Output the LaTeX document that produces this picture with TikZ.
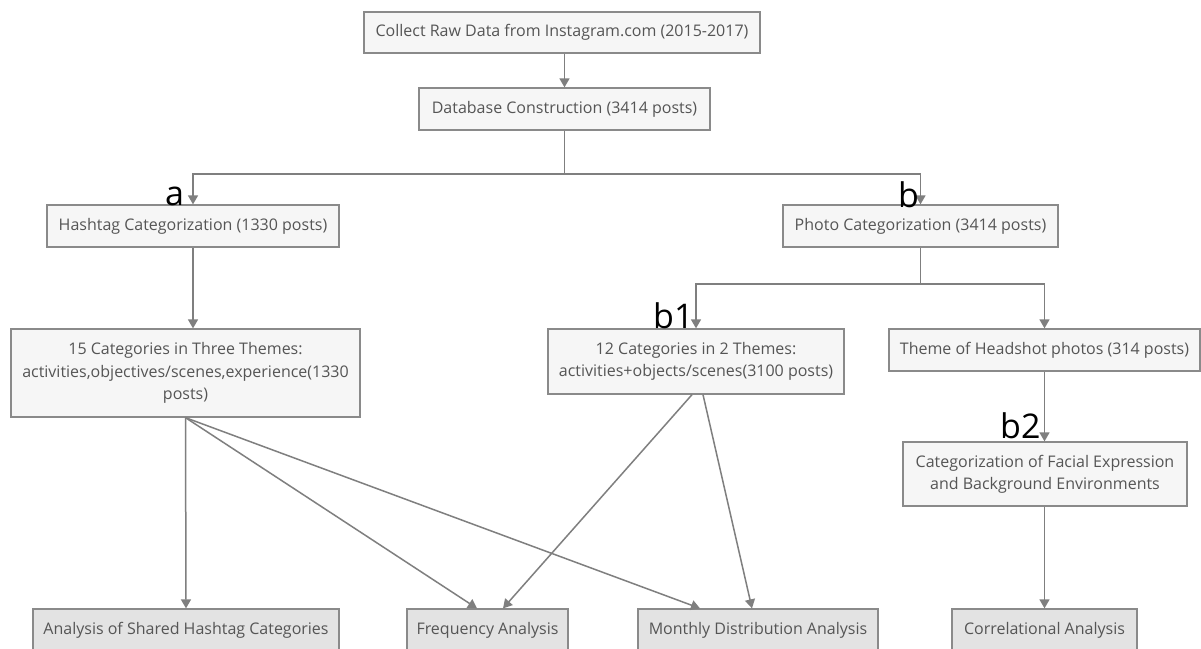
\documentclass[tikz,border=0pt]{standalone}
\usepackage{fontspec}
\setmainfont{Open Sans}
\newfontfamily\labfont{Open Sans}
\usetikzlibrary{arrows.meta,calc}
\definecolor{linec}{HTML}{7F7F7F}
\definecolor{boxline}{HTML}{8A8A8A}
\definecolor{txtc}{HTML}{555555}
\definecolor{fillA}{HTML}{F6F6F6}
\definecolor{fillB}{HTML}{E3E3E3}
\tikzset{
  box/.style={draw=boxline, line width=1.3pt, fill=fillA, text=txtc, align=center,
    inner sep=0pt, font=\fontsize{16}{22}\selectfont},
  fbox/.style={box, fill=fillB},
  arr/.style={draw=linec, line width=1.5pt, -{Triangle[width=10pt,length=9pt]}},
  ln/.style={draw=linec, line width=1.5pt},
  lab/.style={anchor=base west, inner sep=0pt, text=black, font=\labfont\fontsize{34}{34}\selectfont}
}
\begin{document}
\begin{tikzpicture}[x=1pt,y=-1pt]
\useasboundingbox[fill=white] (0,0) rectangle (1201,648);
\node[box, minimum width=396pt, minimum height=41pt] (collect) at (562,32.5) {Collect Raw Data from Instagram.com (2015-2017)};
\node[box, minimum width=291pt, minimum height=42pt] (db) at (564.5,109) {Database Construction (3414 posts)};
\node[box, minimum width=292pt, minimum height=42pt] (hashtag) at (193,226) {Hashtag Categorization (1330 posts)};
\node[box, minimum width=275pt, minimum height=42pt] (photo) at (920.5,226) {Photo Categorization (3414 posts)};
\node[box, minimum width=349pt, minimum height=88pt, font=\fontsize{16}{22.5}\selectfont] (cat15) at (185.5,373) {15 Categories in Three Themes:\\activities,objectives/scenes,experience(1330\\posts)};
\node[box, minimum width=296pt, minimum height=65pt] (cat12) at (696,361.5) {12 Categories in 2 Themes:\\activities+objects/scenes(3100 posts)};
\node[box, minimum width=311pt, minimum height=42pt] (head) at (1044.5,350) {Theme of Headshot photos (314 posts)};
\node[box, minimum width=284pt, minimum height=64pt] (facial) at (1045,474) {Categorization of Facial Expression\\and Background Environments};
\node[fbox, minimum width=306pt, minimum height=42pt] (shared) at (186,630) {Analysis of Shared Hashtag Categories};
\node[fbox, minimum width=161pt, minimum height=42pt] (freq) at (487.5,630) {Frequency Analysis};
\node[fbox, minimum width=240pt, minimum height=42pt] (monthly) at (758,630) {Monthly Distribution Analysis};
\node[fbox, minimum width=185pt, minimum height=42pt] (corr) at (1044.5,630) {Correlational Analysis};
\coordinate (j1) at (565,174);
\coordinate (j2) at (921,284);
% connectors
\draw[arr] (collect.south -| db.north) -- (db.north);
\draw[ln] (db.south) -- (db.south |- j1);
\draw[arr] (db.south |- j1) -| (hashtag.north);
\draw[arr] (db.south |- j1) -| (photo.north);
\draw[arr] (hashtag.south) -- (hashtag.south |- cat15.north);
\draw[ln] (photo.south) -- (photo.south |- j2);
\draw[arr] (photo.south |- j2) -| (cat12.north);
\draw[arr] (photo.south |- j2) -| (head.north);
\draw[arr] (head.south) -- (head.south |- facial.north);
\draw[arr] (facial.south -| head.south) -- (corr.north -| head.south);
\draw[arr] (cat15.south) -- (shared.north);
\draw[arr] (cat15.south) -- ([xshift=-10.5pt]freq.north);
\draw[arr] (cat15.south) -- ([xshift=-58pt]monthly.north);
\draw[arr] ([xshift=-4pt]cat12.south) -- ([xshift=15.5pt]freq.north);
\draw[arr] ([xshift=7pt]cat12.south) -- ([xshift=-6pt]monthly.north);
% labels
\node[lab] (la) at (165,205) {a};
\node[lab] (lb) at (898,207) {b};
\node[lab] (lb1) at (653,328) {b1};
\node[lab] (lb2) at (1000,438) {b2};
\end{tikzpicture}
\end{document}
